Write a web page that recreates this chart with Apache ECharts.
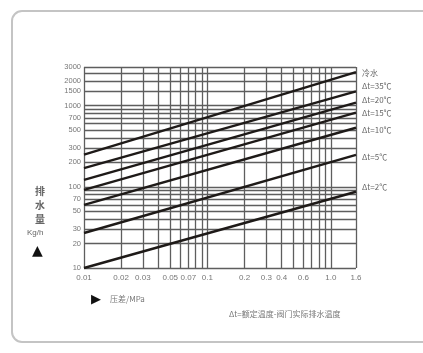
<!DOCTYPE html>
<html>
<head>
<meta charset="utf-8">
<style>
  html, body { margin: 0; padding: 0; background: #fff; }
  #chart { width: 423px; height: 353px; }
</style>
<script src="https://cdn.jsdelivr.net/npm/echarts@6/dist/echarts.min.js"></script>
</head>
<body>
<div id="chart"></div>
<script>
// Pressure difference (MPa) tick labels and grid values
const xLabels = [0.01, 0.02, 0.03, 0.05, 0.07, 0.1, 0.2, 0.3, 0.4, 0.6, 1.0, 1.6];
const xGrid = [0.01, 0.02, 0.03, 0.04, 0.05, 0.06, 0.07, 0.08, 0.09,
               0.1, 0.2, 0.3, 0.4, 0.5, 0.6, 0.7, 0.8, 0.9, 1.0, 1.6];
// Discharge (kg/h) tick labels and grid values
const yLabels = [10, 20, 30, 50, 70, 100, 200, 300, 500, 700, 1000, 1500, 2000, 2500, 3000];
const yGrid = [10, 20, 30, 40, 50, 60, 70, 80, 90,
               100, 200, 300, 400, 500, 600, 700, 800, 900,
               1000, 1500, 2000, 2500, 3000];

// Curve names and their discharge at the two ends of the pressure range
const pressureEnds = [0.01, 1.6];
const curveNames = ['冷水', 'Δt=35℃', 'Δt=20℃', 'Δt=15℃', 'Δt=10℃', 'Δt=5℃', 'Δt=2℃'];
const coldWater = [250, 2600];
const dt35 = [170, 1500];
const dt20 = [122, 1090];
const dt15 = [92, 820];
const dt10 = [60, 535];
const dt5 = [27, 248];
const dt2 = [10, 87];
const curveValues = [coldWater, dt35, dt20, dt15, dt10, dt5, dt2];
const labelShift = [1, -5, -3, 0, 2, 2, -5];

const fmtX = v => {
  const r = Math.round(v * 100) / 100;
  if (r >= 1) return r.toFixed(1);
  if (r >= 0.1) return String(Math.round(r * 10) / 10);
  return r.toFixed(2);
};
const fmtY = v => String(Math.round(v));

const series = curveNames.map((name, i) => ({
  name,
  type: 'line',
  data: pressureEnds.map((p, j) => [p, curveValues[i][j]]),
  symbol: 'none',
  silent: true,
  lineStyle: { color: '#1e1a18', width: 2.4 },
  endLabel: {
    show: true,
    formatter: name,
    color: '#666',
    fontSize: 8,
    fontFamily: 'Noto Sans CJK SC',
    distance: 6,
    offset: [0, labelShift[i]]
  }
}));

const chart = echarts.init(document.getElementById('chart'));
chart.setOption({
  animation: false,
  backgroundColor: '#fff',
  grid: { left: 84, right: 67, top: 67, bottom: 85 },
  xAxis: {
    type: 'log',
    logBase: 10,
    min: 0.01,
    max: 1.6,
    axisLine: { show: false },
    axisTick: { show: false, customValues: xGrid },
    splitLine: { show: true, lineStyle: { color: '#5e5e5e', width: 1.3 } },
    axisLabel: {
      customValues: xLabels,
      formatter: v => fmtX(v),
      hideOverlap: false,
      showMinLabel: true,
      showMaxLabel: true,
      color: '#777',
      fontSize: 8,
      margin: 6,
      fontFamily: 'Liberation Sans'
    }
  },
  yAxis: {
    type: 'log',
    logBase: 10,
    min: 10,
    max: 3000,
    axisLine: { show: false },
    axisTick: { show: false, customValues: yGrid },
    splitLine: { show: true, lineStyle: { color: '#5e5e5e', width: 1.3 } },
    axisLabel: {
      customValues: yLabels,
      formatter: v => fmtY(v),
      hideOverlap: false,
      showMinLabel: true,
      showMaxLabel: true,
      color: '#777',
      fontSize: 7.5,
      margin: 3,
      fontFamily: 'Liberation Sans'
    }
  },
  graphic: [
    {
      type: 'rect',
      shape: { x: 12, y: 11, width: 440, height: 331, r: 10 },
      style: { fill: 'none', stroke: '#c4c4c4', lineWidth: 2 },
      silent: true
    },
    {
      type: 'text', left: 35, top: 184,
      style: { text: '排\n水\n量', fill: '#666', fontSize: 10, lineHeight: 14,
               fontFamily: 'Noto Sans CJK SC', fontWeight: 'bold' }
    },
    {
      type: 'text', left: 27, top: 229,
      style: { text: 'Kg/h', fill: '#666', fontSize: 8, fontFamily: 'Liberation Sans' }
    },
    {
      type: 'text', left: 32, top: 244,
      style: { text: '▲', fill: '#111', fontSize: 14, fontFamily: 'DejaVu Sans' }
    },
    {
      type: 'text', left: 91, top: 293,
      style: { text: '▶', fill: '#111', fontSize: 13, fontFamily: 'DejaVu Sans' }
    },
    {
      type: 'text', left: 110, top: 295,
      style: { text: '压差/MPa', fill: '#777', fontSize: 8, fontFamily: 'Noto Sans CJK SC' }
    },
    {
      type: 'text', left: 229, top: 310,
      style: { text: 'Δt=额定温度-阀门实际排水温度', fill: '#777', fontSize: 8,
               fontFamily: 'Noto Sans CJK SC' }
    }
  ],
  series
});
</script>
</body>
</html>
